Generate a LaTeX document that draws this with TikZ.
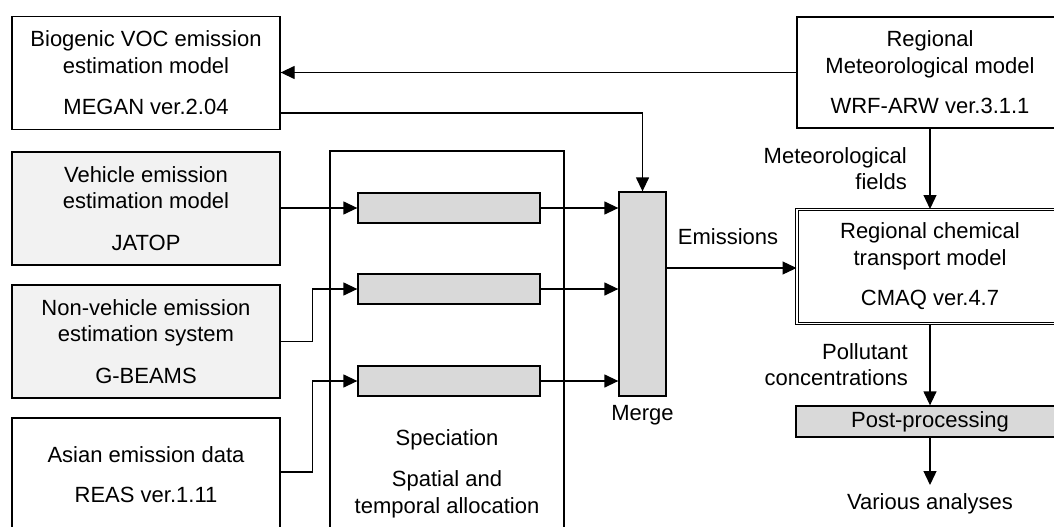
\documentclass[tikz,border=0pt]{standalone}
\usepackage{fontspec}
\setmainfont{Liberation Sans}
\usetikzlibrary{arrows.meta}
\definecolor{lightfill}{HTML}{F2F2F2}
\definecolor{midfill}{HTML}{D9D9D9}
\begin{document}
\begin{tikzpicture}[x=1pt,y=-1pt,
  every node/.style={font=\fontsize{22}{26.5}\selectfont},
  box/.style={draw, line width=1.3pt, align=center, inner sep=0pt, minimum width=268pt, minimum height=113pt},
  gbox/.style={draw, line width=1.3pt, fill=midfill, inner sep=0pt},
  lbl/.style={inner sep=0pt, align=center},
  rlbl/.style={inner sep=0pt, align=right, anchor=east},
  ln/.style={line width=1.3pt},
  arr/.style={line width=1.3pt, -{Triangle[length=14pt,width=13pt]}}]
\useasboundingbox (0,0) rectangle (1054,527);
\clip (0,0) rectangle (1054,527);
\fill[white] (0,0) rectangle (1054,527);

% speciation frame
\node[draw, line width=1.3pt, minimum width=234pt, minimum height=400pt, inner sep=0pt] (spec) at (447,351) {};
\node[lbl] (spectxt) at (447,440) {Speciation};
\node[lbl] (spattxt) at (447,494.5) {Spatial and\\temporal allocation};

% left boxes
\node[box] (bio) at (146,73) {Biogenic VOC emission\\estimation model\\[15pt]MEGAN ver.2.04};
\node[box, fill=lightfill] (veh) at (146,208.5) {Vehicle emission\\estimation model\\[15pt]JATOP};
\node[box, fill=lightfill] (nv) at (146,341.5) {Non-vehicle emission\\estimation system\\[15pt]G-BEAMS};
\node[box] (as) at (146,474.5) {Asian emission data\\[14pt]REAS ver.1.11};

% right boxes
\node[box, minimum width=266pt, minimum height=111pt] (met) at (930,72.5) {Regional\\Meteorological model\\[14pt]WRF-ARW ver.3.1.1};
\node[box, minimum width=266pt, minimum height=114pt, line width=1pt, double, double distance=1.6pt] (cmaq) at (930,266.5) {Regional chemical\\transport model\\[14pt]CMAQ ver.4.7};
\node[gbox, minimum width=268pt, minimum height=31pt] (post) at (930,421.5) {Post-processing};
\coordinate (ana) at (930,485);
\node[lbl] (anatxt) at (930,504) {Various analyses};

% small boxes and merge
\node[gbox, minimum width=182pt, minimum height=30pt] (s1) at (449,208) {};
\node[gbox, minimum width=182pt, minimum height=30pt] (s2) at (449,289) {};
\node[gbox, minimum width=182pt, minimum height=30pt] (s3) at (449,381) {};
\node[gbox, minimum width=47pt, minimum height=204pt] (merge) at (642.5,294) {};
\node[lbl] (mergetxt) at (642.5,415) {Merge};

% labels
\node[lbl] (emis) at (728,237) {Emissions};
\node[rlbl] (metf) at (907,168.5) {Meteorological\\fields};
\node[rlbl] (poll) at (908,364.5) {Pollutant\\concentrations};

% connectors
\draw[arr] (met.west) -- (bio.east |- met.west);
\draw[arr] (bio.east |- 0,113) -| (merge.north);
\draw[arr] (veh.east |- s1.west) -- (s1.west);
\draw[arr] (nv.east) -- ++(32,0) |- (s2.west);
\draw[arr] (as.east |- 0,472) -- ++(32,0) |- (s3.west);
\draw[arr] (s1.east) -- (merge.west |- s1.east);
\draw[arr] (s2.east) -- (merge.west |- s2.east);
\draw[arr] (s3.east) -- (merge.west |- s3.east);
\draw[arr] (merge.east |- 0,268) -- (cmaq.west |- 0,268);
\draw[arr] (met.south) -- (cmaq.north);
\draw[arr] (cmaq.south) -- (post.north);
\draw[arr] (post.south) -- (ana);
\end{tikzpicture}
\end{document}
